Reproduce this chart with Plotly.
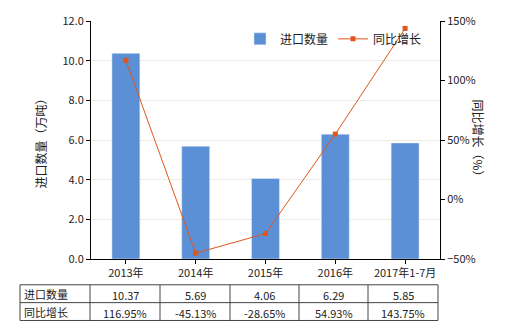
import plotly.graph_objects as go

categories = ["2013年", "2014年", "2015年", "2016年", "2017年1-7月"]
import_qty = [10.37, 5.69, 4.06, 6.29, 5.85]
yoy_growth = [116.95, -45.13, -28.65, 54.93, 143.75]
bar_name = "进口数量"
line_name = "同比增长"

BAR_COLOR = "#5B8FD6"
LINE_COLOR = "#E0561B"
FONT = "Noto Sans CJK SC, Microsoft YaHei, sans-serif"

W, H = 520, 330
L, R, T, B = 91, 80, 19, 71
pw, ph = W - L - R, H - T - B

def px(x):
    return (x - L) / pw

def py(y):
    return (H - B - y) / ph

fig = go.Figure()
fig.add_trace(go.Bar(x=categories, y=import_qty, name=bar_name, marker_color=BAR_COLOR,
                     width=0.4, yaxis="y"))
fig.add_trace(go.Scatter(x=categories, y=yoy_growth, name=line_name, yaxis="y2",
                         mode="lines+markers",
                         line=dict(color=LINE_COLOR, width=1),
                         marker=dict(symbol="square", size=5, color=LINE_COLOR)))

shapes = []
annotations = []
# table geometry
tx0, tx1 = 20, 438
col_edges = [20, 90, 160, 230, 299, 368, 438]
row_edges = [285, 303, 321]
for yv in row_edges:
    shapes.append(dict(type="line", xref="paper", yref="paper",
                       x0=px(tx0), x1=px(tx1), y0=py(yv), y1=py(yv),
                       line=dict(color="#444", width=1)))
for xv in col_edges:
    shapes.append(dict(type="line", xref="paper", yref="paper",
                       x0=px(xv), x1=px(xv), y0=py(row_edges[0]), y1=py(row_edges[-1]),
                       line=dict(color="#444", width=1)))
rows = [(bar_name, [f"{v:.2f}" for v in import_qty]),
        (line_name, [f"{v:.2f}%" for v in yoy_growth])]
for ri, (label, vals) in enumerate(rows):
    yc = (row_edges[ri] + row_edges[ri + 1]) / 2
    annotations.append(dict(xref="paper", yref="paper", x=px(22), y=py(yc),
                            text=label, showarrow=False, xanchor="left", yanchor="middle",
                            font=dict(size=11, color="#222", family=FONT)))
    for ci, v in enumerate(vals):
        xc = (col_edges[ci + 1] + col_edges[ci + 2]) / 2
        annotations.append(dict(xref="paper", yref="paper", x=px(xc), y=py(yc + 1),
                                text=v, showarrow=False, xanchor="center", yanchor="middle",
                                font=dict(size=11, color="#222", family=FONT)))

# axis titles
annotations.append(dict(xref="paper", yref="paper", x=px(30), y=py(140), text="进口数量（万吨）",
                        textangle=-90, showarrow=False, font=dict(size=12, color="#222", family=FONT)))
annotations.append(dict(xref="paper", yref="paper", x=px(489), y=py(140), text="同比增长（%）",
                        textangle=90, showarrow=False, font=dict(size=12, color="#222", family=FONT)))

fig.update_layout(
    width=W, height=H,
    margin=dict(l=L, r=R, t=T, b=B, pad=0),
    paper_bgcolor="white", plot_bgcolor="white",
    font=dict(family=FONT, size=11, color="#222"),
    bargap=0.6,
    showlegend=True,
    legend=dict(orientation="h", x=px(240), y=py(37), xanchor="left", yanchor="middle",
                bgcolor="rgba(0,0,0,0)", font=dict(size=12, family=FONT),
                itemwidth=30, tracegroupgap=0),
    xaxis=dict(showline=True, linecolor="black", linewidth=1, ticks="outside",
               ticklen=4, tickcolor="black", showgrid=False, tickfont=dict(size=11)),
    yaxis=dict(range=[0, 12], dtick=2, tickformat=".1f", showline=True, linecolor="black",
               ticks="outside", ticklen=4, tickcolor="black", gridcolor="#ECECE4",
               zeroline=False, tickfont=dict(size=11)),
    yaxis2=dict(range=[-50, 150], dtick=50, ticksuffix="%", overlaying="y", side="right",
                showline=True, linecolor="black", ticks="outside", ticklen=4, tickcolor="black",
                showgrid=False, zeroline=False, tickfont=dict(size=11)),
    shapes=shapes, annotations=annotations,
)

fig.write_html("out.html")
